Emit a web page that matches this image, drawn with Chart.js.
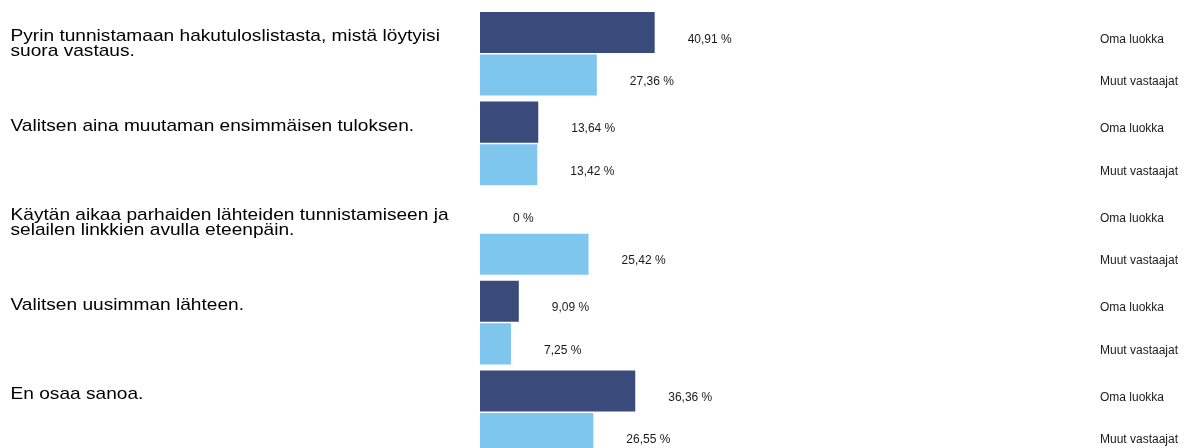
<!DOCTYPE html>
<html>
<head>
<meta charset="utf-8">
<script src="https://cdn.jsdelivr.net/npm/chart.js@4/dist/chart.umd.min.js"></script>
<style>
  html, body { margin: 0; padding: 0; background: #fff; overflow: hidden; }
  #wrap { width: 1185px; height: 457px; }
</style>
</head>
<body>
<div id="wrap"><canvas id="chart" width="1185" height="457"></canvas></div>
<script>
// kysymykset (rivitetty kuten alkuperäisessä)
const questions = [
    ["Pyrin tunnistamaan hakutuloslistasta, mistä löytyisi", "suora vastaus."],
    ["Valitsen aina muutaman ensimmäisen tuloksen."],
    ["Käytän aikaa parhaiden lähteiden tunnistamiseen ja", "selailen linkkien avulla eteenpäin."],
    ["Valitsen uusimman lähteen."],
    ["En osaa sanoa."]
];
const groupNames = ["Oma luokka", "Muut vastaajat"];
const omaLuokka = [40.91, 13.64, 0, 9.09, 36.36];
const muutVastaajat = [27.36, 13.42, 25.42, 7.25, 26.55];

const FONT = "'Liberation Sans', Arial, sans-serif";

function formatPercent(v) {
    return String(v).replace('.', ',') + ' %';
}

// tekstit: kysymykset vasemmalle, arvot palkkien perään, ryhmän nimi oikealle
const labelsPlugin = {
    id: 'labels',
    afterDatasetsDraw(chart) {
        const ctx = chart.ctx;
        ctx.save();
        ctx.textBaseline = 'alphabetic';
        ctx.textAlign = 'left';

        chart.data.datasets.forEach((ds, i) => {
            const meta = chart.getDatasetMeta(i);
            meta.data.forEach((bar, j) => {
                ctx.font = "12px " + FONT;
                ctx.fillStyle = '#1a1a1a';
                ctx.fillText(formatPercent(ds.data[j]), bar.base + (bar.x - bar.base) + 33, bar.y + 10);
                ctx.fillText(ds.label, 1100, bar.y + 10);
            });
        });

        const first = chart.getDatasetMeta(0);
        ctx.font = "17px " + FONT;
        ctx.fillStyle = '#000';
        questions.forEach((lines, j) => {
            const y0 = first.data[j].y + 8.5;
            lines.forEach((line, k) => {
                ctx.save();
                ctx.translate(10.5, y0 + k * 14.5);
                ctx.scale(1.125, 1);
                ctx.fillText(line, 0, 0);
                ctx.restore();
            });
        });
        ctx.restore();
    }
};

new Chart(document.getElementById('chart'), {
    type: 'bar',
    data: {
        labels: questions.map(q => q.join(' ')),
        datasets: [
            {
                label: groupNames[0],
                data: omaLuokka,
                backgroundColor: '#394a7b',
                categoryPercentage: 0.95,
                barPercentage: 0.965
            },
            {
                label: groupNames[1],
                data: muutVastaajat,
                backgroundColor: '#7fc6ee',
                categoryPercentage: 0.95,
                barPercentage: 0.965
            }
        ]
    },
    options: {
        indexAxis: 'y',
        responsive: false,
        animation: false,
        layout: { padding: { left: 480, right: 278, top: 9, bottom: 0 } },
        plugins: {
            legend: { display: false },
            tooltip: { enabled: false }
        },
        scales: {
            x: { min: 0, max: 100, display: false },
            y: { display: false }
        }
    },
    plugins: [labelsPlugin]
});
</script>
</body>
</html>
